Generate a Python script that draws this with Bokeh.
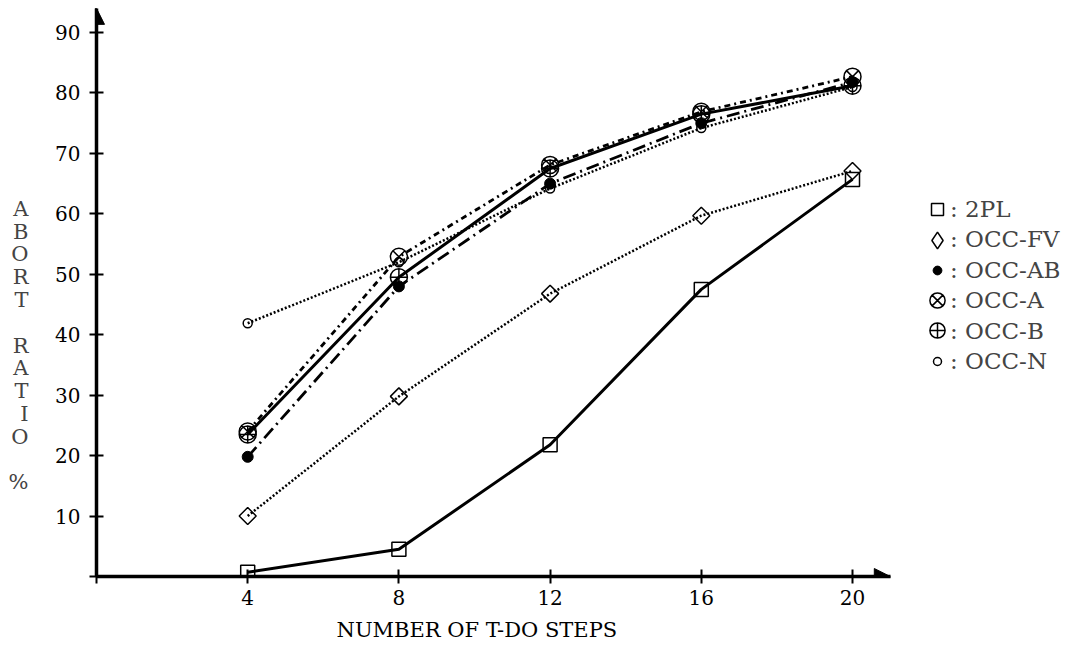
import math
from bokeh.plotting import figure
from bokeh.models import (Range1d, FixedTicker, Legend, LegendItem, LinearAxis,
                          Arrow, NormalHead, Title)
from bokeh.embed import file_html
from bokeh.resources import INLINE

# ---- data ----
steps = [4, 8, 12, 16, 20]
two_pl = [0.7, 4.5, 21.8, 47.5, 65.7]
occ_fv = [10.0, 29.8, 46.8, 59.7, 67.1]
occ_ab = [19.8, 48.0, 65.0, 75.0, 81.8]
occ_a = [24.0, 52.9, 68.1, 76.9, 82.7]
occ_b = [23.5, 49.5, 67.5, 76.5, 81.2]
occ_n = [41.9, 52.0, 64.2, 74.2, 81.0]
x_ticks = [0, 4, 8, 12, 16, 20]
y_ticks = [0, 10, 20, 30, 40, 50, 60, 70, 80, 90]
series_names = ["2PL", "OCC-FV", "OCC-AB", "OCC-A", "OCC-B", "OCC-N"]
x_title = "NUMBER OF T-DO STEPS"
y_title_words = ["ABORT", "RATIO", "%"]

FONT = "DejaVu Serif"
X0, Y0 = 96, 576          # pixel position of the origin
PX_X, PX_Y = 37.8, 6.044  # pixels per unit
W, H = 1081, 654

p = figure(width=W, height=H, output_backend="svg", toolbar_location=None,
           x_range=Range1d(0, (W - X0 - 10) / PX_X),
           y_range=Range1d(0, Y0 / PX_Y),
           min_border_left=X0, min_border_right=10, min_border_top=0,
           min_border_bottom=H - Y0)
p.outline_line_color = None
p.grid.visible = False
p.background_fill_color = "white"

for ax in (p.xaxis[0], p.yaxis[0]):
    ax.axis_line_width = 3.5
    ax.major_tick_line_width = 2
    ax.major_tick_in = 7
    ax.major_tick_out = 7
    ax.minor_tick_line_color = None
    ax.major_label_text_font = FONT
    ax.major_label_text_font_size = "20px"
    ax.major_label_text_color = "black"
    ax.axis_line_color = "black"
    ax.major_tick_line_color = "black"
    ax.major_label_overrides = {0: ""}

p.xaxis.ticker = FixedTicker(ticks=x_ticks, minor_ticks=[])
p.yaxis.ticker = FixedTicker(ticks=y_ticks, minor_ticks=[])
p.xaxis.bounds = (0, 21)
p.yaxis.bounds = (0, 94)
p.xaxis.major_label_standoff = 6
p.yaxis.major_label_standoff = 9

# x axis title
p.add_layout(Title(text=x_title, align="left", offset=240, standoff=16,
                   text_font=FONT, text_font_size="21px",
                   text_font_style="normal", text_color="black"), "below")

# y axis title: letters stacked vertically (leading blank lines shift it down)
y_label = "\n" * 5 + "\n\n".join("\n".join(w) for w in y_title_words)
yt = LinearAxis(ticker=FixedTicker(ticks=[]),
                axis_line_color=None, major_tick_in=0, major_tick_out=0,
                minor_tick_line_color=None,
                axis_label=y_label,
                axis_label_orientation="horizontal",
                axis_label_text_font=FONT, axis_label_text_font_size="21px",
                axis_label_text_font_style="normal",
                axis_label_text_line_height=0.95,
                axis_label_text_align="center",
                axis_label_standoff=24)
p.add_layout(yt, "left")

# arrows at the ends of the axes
p.add_layout(Arrow(end=NormalHead(size=16, fill_color="black", line_color="black"),
                   x_start=20.5, y_start=0, x_end=21.0, y_end=0,
                   line_width=3, line_color="black"))
p.add_layout(Arrow(end=NormalHead(size=16, fill_color="black", line_color="black"),
                   x_start=0, y_start=91, x_end=0, y_end=94,
                   line_width=3, line_color="black"))

marker_rs, line_rs = [], []
# 2PL
line_rs.append(p.line(steps, two_pl, line_width=3, line_color="black"))
marker_rs.append(p.scatter(steps, two_pl, marker="square", size=14,
                           fill_color=None, line_color="black", line_width=1.5))
# OCC-FV
line_rs.append(p.line(steps, occ_fv, line_width=2.5, line_color="black",
                      line_dash="2 2"))
p.scatter(steps, occ_fv, marker="square", angle=math.pi / 4, size=12,
          fill_color=None, line_color="black", line_width=1.5)
# legend proxy (size 0: invisible in the plot, the legend sizes it itself)
marker_rs.append(p.scatter(steps, occ_fv, marker="diamond", size=0,
                           fill_color=None, line_color="black", line_width=1.5))
# OCC-AB
line_rs.append(p.line(steps, occ_ab, line_width=2.8, line_color="black",
                      line_dash="13 5 2 5"))
marker_rs.append(p.scatter(steps, occ_ab, marker="circle", size=11,
                           fill_color="black", line_color="black"))
# OCC-A
line_rs.append(p.line(steps, occ_a, line_width=2.8, line_color="black",
                      line_dash="6 4 2 4"))
marker_rs.append(p.scatter(steps, occ_a, marker="circle_x", size=17,
                           fill_color=None, line_color="black", line_width=1.5))
# OCC-B
line_rs.append(p.line(steps, occ_b, line_width=3, line_color="black"))
marker_rs.append(p.scatter(steps, occ_b, marker="circle_cross", size=17,
                           fill_color=None, line_color="black", line_width=1.5))
# OCC-N
line_rs.append(p.line(steps, occ_n, line_width=2.5, line_color="black",
                      line_dash="2 2"))
marker_rs.append(p.scatter(steps, occ_n, marker="circle", size=9,
                           fill_color=None, line_color="black", line_width=1.5))

# legend: one marker-only legend and one text-only legend per entry
legend_marker_px = [12, 17, 9, 15, 15, 8]
mark_cx, text_x, row0, row_gap = 937, 950, 209, 30.4
for i, name in enumerate(series_names):
    yc = row0 + i * row_gap
    gw = legend_marker_px[i] / 0.4
    gh = gw
    p.add_layout(Legend(
        items=[LegendItem(label="", renderers=[marker_rs[i]])],
        location=(mark_cx - X0 - gw / 2, (Y0 - yc) - gh / 2),
        padding=0, margin=0, spacing=0, label_width=0, label_standoff=0,
        glyph_width=int(round(gw)), glyph_height=int(round(gh)),
        label_height=int(round(gh)),
        border_line_color=None, background_fill_alpha=0,
        label_text_font=FONT, label_text_font_size="22px"))
    th = 26
    p.add_layout(Legend(
        items=[LegendItem(label=": " + name, renderers=[line_rs[i]])],
        location=(text_x - X0, (Y0 - yc) - th / 2),
        padding=0, margin=0, spacing=0, label_standoff=0,
        glyph_width=0, glyph_height=th, label_height=th,
        border_line_color=None, background_fill_alpha=0,
        label_text_font=FONT, label_text_font_size="23px"))

open("out.html", "w").write(file_html(p, INLINE))
